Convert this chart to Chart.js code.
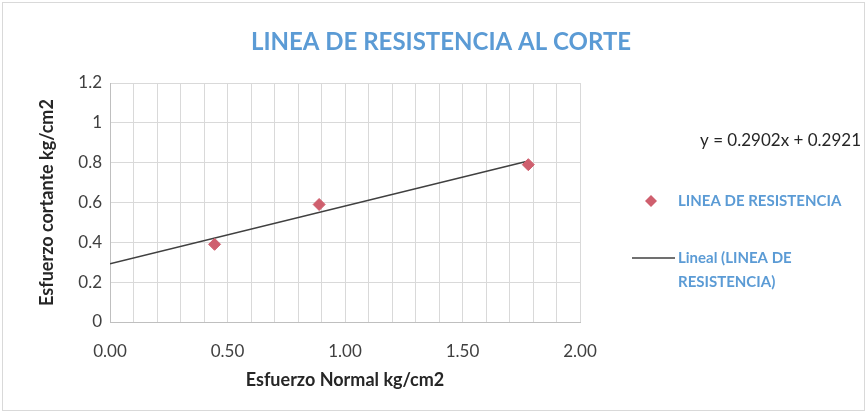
<!DOCTYPE html>
<html>
<head>
<meta charset="utf-8">
<script src="https://cdn.jsdelivr.net/npm/chart.js@4"></script>
<style>
  html, body { margin: 0; padding: 0; background: #fff; }
  canvas { display: block; }
</style>
</head>
<body>
<canvas id="chart" width="867" height="413"></canvas>
<script>
const normalStress = [0.445, 0.89, 1.78];
const shearStress = [0.39, 0.59, 0.79];
const trendX = [0, 1.78];
const trendY = [0.2921, 0.8087];
const equationText = 'y = 0.2902x + 0.2921';
const chartTitle = 'LINEA DE RESISTENCIA AL CORTE';

const markerColor = '#cf5f6e';
const lineColor = '#404040';
const blue = '#5b9bd5';
const font = 'Lato, "Open Sans", sans-serif';

const sideLegend = {
  id: 'sideLegend',
  beforeDraw(chart) {
    const ctx = chart.ctx;
    ctx.save();
    ctx.strokeStyle = '#d9d9d9';
    ctx.lineWidth = 1;
    ctx.strokeRect(2.5, 2.5, chart.width - 5, chart.height - 5);
    ctx.restore();
  },
  afterDraw(chart) {
    const ctx = chart.ctx;
    ctx.save();
    ctx.textBaseline = 'middle';

    // title
    ctx.font = 'bold 24px ' + font;
    ctx.fillStyle = blue;
    ctx.textAlign = 'center';
    ctx.fillText(chartTitle, 441, 42);

    ctx.font = '17px ' + font;
    ctx.fillStyle = '#262626';
    ctx.textAlign = 'right';
    ctx.fillText(equationText, 861, 141);

    ctx.textAlign = 'left';
    ctx.fillStyle = markerColor;
    ctx.beginPath();
    ctx.moveTo(651, 195); ctx.lineTo(657, 201); ctx.lineTo(651, 207); ctx.lineTo(645, 201);
    ctx.closePath(); ctx.fill();

    ctx.font = 'bold 15px ' + font;
    ctx.fillStyle = blue;
    ctx.fillText(chart.data.datasets[0].label, 678, 201);

    ctx.strokeStyle = lineColor;
    ctx.lineWidth = 1.5;
    ctx.beginPath(); ctx.moveTo(632, 258); ctx.lineTo(675, 258); ctx.stroke();
    ctx.fillText('Lineal (LINEA DE', 678, 258);
    ctx.fillText('RESISTENCIA)', 678, 282);
    ctx.restore();
  }
};

new Chart(document.getElementById('chart'), {
  type: 'scatter',
  data: {
    datasets: [
      {
        label: 'LINEA DE RESISTENCIA',
        data: normalStress.map((x, i) => ({ x, y: shearStress[i] })),
        pointStyle: 'rectRot',
        pointRadius: 6,
        pointHoverRadius: 6,
        backgroundColor: markerColor,
        borderColor: markerColor,
        order: 1
      },
      {
        label: 'Lineal (LINEA DE RESISTENCIA)',
        type: 'line',
        data: trendX.map((x, i) => ({ x, y: trendY[i] })),
        borderColor: lineColor,
        borderWidth: 1.5,
        pointRadius: 0,
        fill: false,
        order: 2
      }
    ]
  },
  options: {
    responsive: false,
    animation: false,
    layout: { padding: { left: 0, right: 287, top: 83, bottom: 0 } },
    plugins: {
      legend: { display: false },
      tooltip: { enabled: false },
      title: { display: false }
    },
    scales: {
      x: {
        type: 'linear',
        min: 0, max: 2,
        afterFit: s => { s.height = 91; },
        ticks: {
          stepSize: 0.1,
          autoSkip: false,
          maxRotation: 0,
          padding: 19,
          color: '#404040',
          font: { family: font, size: 17 },
          callback: v => Math.abs(v * 2 - Math.round(v * 2)) < 1e-6 ? v.toFixed(2) : ''
        },
        grid: { color: '#d9d9d9', drawTicks: false },
        border: { color: '#bfbfbf' },
        title: {
          display: true,
          text: 'Esfuerzo Normal kg/cm2',
          color: '#262626',
          font: { family: font, size: 18, weight: 'bold' },
          padding: { top: 0, bottom: 22 }
        }
      },
      y: {
        min: 0, max: 1.2,
        afterFit: s => { s.width = 110; },
        ticks: {
          stepSize: 0.2,
          color: '#404040',
          padding: 8,
          font: { family: font, size: 17 },
          callback: v => String(Math.round(v * 10) / 10)
        },
        grid: { color: '#d9d9d9', drawTicks: false },
        border: { color: '#bfbfbf' },
        title: {
          display: true,
          text: 'Esfuerzo cortante kg/cm2',
          color: '#262626',
          font: { family: font, size: 18, weight: 'bold' },
          padding: { top: 36, bottom: 0 }
        }
      }
    }
  },
  plugins: [sideLegend]
});
</script>
</body>
</html>
